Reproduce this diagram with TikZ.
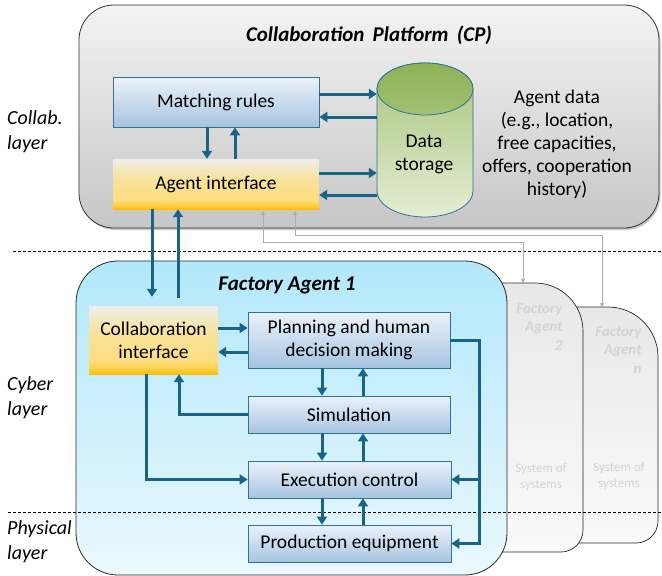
\documentclass[tikz,border=0pt]{standalone}
\usepackage{fontspec}
\setmainfont{Carlito}
\usetikzlibrary{arrows.meta,shadows,calc}
\definecolor{arrc}{RGB}{24,100,135}
\definecolor{bordc}{RGB}{45,115,150}
\definecolor{bluetop}{RGB}{236,242,250}
\definecolor{bluebot}{RGB}{166,196,225}
\definecolor{ytop}{RGB}{238,238,234}
\definecolor{ymid}{RGB}{252,222,128}
\definecolor{ybot}{RGB}{255,190,0}
\definecolor{cptop}{RGB}{243,243,243}
\definecolor{cpbot}{RGB}{198,198,198}
\definecolor{fatop}{RGB}{178,232,251}
\definecolor{fabot}{RGB}{234,248,253}
\definecolor{gtop}{RGB}{140,178,85}
\definecolor{gbot}{RGB}{228,238,212}
\definecolor{ghosttxt}{RGB}{212,212,212}
\definecolor{ghosttop}{RGB}{232,232,232}
\definecolor{ghostbot}{RGB}{250,250,250}
\pgfdeclareverticalshading{yshade}{100bp}{color(0bp)=(ybot); color(25bp)=(ybot); color(28bp)=(ybot!55!ymid); color(34bp)=(ymid); color(55bp)=(ymid!75!ytop); color(75bp)=(ytop); color(100bp)=(ytop)}
\tikzset{
  txt/.style={font=\fontsize{19.5}{23}\selectfont, align=center},
  bbox/.style={txt, draw=bordc, line width=0.8pt, top color=bluetop, bottom color=bluebot, inner sep=0pt},
  ybox/.style={txt, shading=yshade, inner sep=0pt},
  arr/.style={draw=arrc, line width=3pt, -{Triangle[length=8pt,width=10pt]}},
  gline/.style={draw=gray!65, line width=0.7pt, {Triangle[length=4pt,width=4pt]}-{Triangle[length=4pt,width=4pt]}},
  ghostbox/.style={draw=black!85, line width=0.7pt, top color=ghosttop, bottom color=ghostbot},
  ghosttitle/.style={font=\fontsize{15}{18.5}\selectfont\bfseries\itshape, text=ghosttxt, align=right, anchor=east},
  ghostsub/.style={font=\fontsize{13}{16}\selectfont, text=ghosttxt, align=center},
  layerlbl/.style={font=\fontsize{20}{25}\selectfont\itshape, align=left, anchor=west, inner sep=0pt},
  title/.style={font=\fontsize{21}{25}\selectfont\bfseries\itshape}
}
\begin{document}
\begin{tikzpicture}[x=1pt,y=-1pt]
\useasboundingbox (0,0) rectangle (662,576);
% Collaboration platform
\path[draw=black!80, line width=0.8pt, top color=cptop, bottom color=cpbot, rounded corners=35pt,
  drop shadow={opacity=0.45, shadow xshift=1.5pt, shadow yshift=-2pt}] (79,5) rectangle (659,228);
\node[title] (cpt) at (369,35) {Collaboration\,\ Platform\,\ (CP)};
\node[bbox, minimum width=206pt, minimum height=50pt] (mr) at (216,102) {Matching rules};
\node[ybox, minimum width=206pt, minimum height=50pt] (ai) at (216,184) {Agent interface};
% data storage cylinder
\node[minimum width=96pt, minimum height=154pt, inner sep=0pt] (ds) at (425,140) {};
\path[draw=bordc, line width=0.8pt, top color=gtop!70!gbot, bottom color=gbot]
  (377,89) -- (377,191) arc[start angle=180, end angle=0, x radius=48, y radius=26]
  -- (473,89) arc[start angle=0, end angle=-180, x radius=48, y radius=26] -- cycle;
\path[draw=bordc, line width=0.8pt, top color=gtop, bottom color=gtop!75!gbot]
  (425,89) ellipse [x radius=48, y radius=26];
\node[txt] (dst) at (424,154) {Data\\storage};
\node[txt] (adata) at (557,144) {Agent data\\(e.g., location,\\free capacities,\\offers, cooperation\\history)};
% arrows in CP
\draw[arr] ([yshift=8pt]mr.east) -- ([yshift=8pt]mr.east -| ds.west);
\draw[arr] ([yshift=-15pt]mr.east -| ds.west) -- ([yshift=-15pt]mr.east);
\draw[arr] ([yshift=11pt]ai.east) -- ([yshift=11pt]ai.east -| ds.west);
\draw[arr] ([yshift=-11pt]ai.east -| ds.west) -- ([yshift=-11pt]ai.east);
\draw[arr] ([xshift=-9pt]mr.south) -- ([xshift=-9pt]ai.north);
\draw[arr] ([xshift=19pt]ai.north) -- ([xshift=19pt]mr.south);
% layer labels
\node[layerlbl] (l1) at (7,132) {Collab.\\layer};
\node[layerlbl] (l2) at (7,398) {Cyber\\layer};
\node[layerlbl] (l3) at (7,542) {Physical\\layer};
% ghost agents
\path[ghostbox] (480,543) -- (480,307) -- (608,307) arc[start angle=-90, end angle=0, radius=50]
  -- (658,521) arc[start angle=0, end angle=90, radius=22] -- cycle;
\path[ghostbox] (400,552) -- (400,283) -- (535,283) arc[start angle=-90, end angle=0, radius=48]
  -- (583,530) arc[start angle=0, end angle=90, radius=22] -- cycle;
\coordinate (fa2top) at (523,283);
\coordinate (fantop) at (602,307);
\node[ghosttitle] (fa2t) at (566,327) {Factory\\Agent\\2};
\node[ghostsub] (fa2s) at (541,477) {System of\\systems};
\node[ghosttitle] (fant) at (645,350) {Factory\\Agent\\\textit{n}};
\node[ghostsub] (fans) at (619,476) {System of\\systems};
% factory agent 1
\path[draw=black!85, line width=0.8pt, top color=fatop, bottom color=fabot, rounded corners=42pt]
  (76,261) rectangle (507,575);
\node[title] (fat) at (287,285) {Factory Agent 1};
% dashed layer lines
\draw[dashed, dash pattern=on 3pt off 2pt, line width=0.6pt] (13,251) -- (662,251);
\draw[dashed, dash pattern=on 3pt off 2pt, line width=0.6pt] (8,512) -- (662,512);
% inner boxes
\node[ybox, minimum width=129pt, minimum height=68pt] (ci) at (153.5,340) {Collaboration\\interface};
\node[bbox, minimum width=202pt, minimum height=56pt] (plan) at (349,340) {Planning and human\\decision making};
\node[bbox, minimum width=202pt, minimum height=37pt] (sim) at (349,414.5) {Simulation};
\node[bbox, minimum width=203pt, minimum height=37pt] (exec) at (349.5,479.5) {Execution control};
\node[bbox, minimum width=203pt, minimum height=37pt] (prod) at (349.5,543.5) {Production equipment};
% CP <-> agent
\draw[arr] ([xshift=-64pt]ai.south) -- ([xshift=-1.5pt,yshift=9pt]ci.north);
\draw[arr] ([xshift=24.5pt,yshift=8pt]ci.north) -- ([xshift=-38pt]ai.south);
% gray links to other agents
\draw[gline] ([xshift=47pt,yshift=-2pt]ai.south) |- ($(fa2top)+(0,-41)$) -- (fa2top);
\draw[gline] ([xshift=79pt,yshift=-2pt]ai.south) |- ($(fantop)+(0,-72)$) -- (fantop);
% agent internal arrows
\draw[arr] ([yshift=12pt]ci.east) -- ([yshift=12pt]ci.east -| plan.west);
\draw[arr] ([yshift=-12pt]ci.east -| plan.west) -- ([yshift=-12pt]ci.east);
\draw[arr] ([xshift=-27pt]plan.south) -- ([xshift=-27pt]sim.north);
\draw[arr] ([xshift=14pt]sim.north) -- ([xshift=14pt]plan.south);
\draw[arr] ([xshift=-27pt]sim.south) -- ([xshift=-27.5pt]exec.north);
\draw[arr] ([xshift=13.5pt]exec.north) -- ([xshift=14pt]sim.south);
\draw[arr] ([xshift=-27.5pt]exec.south) -- ([xshift=-27.5pt]prod.north);
\draw[arr] ([xshift=13.5pt]prod.north) -- ([xshift=13.5pt]exec.south);
\draw[arr] (sim.west) -| ([xshift=25.5pt]ci.south);
\draw[arr] ([xshift=-7.5pt]ci.south) |- (exec.west);
\coordinate (fb) at ([xshift=29pt]plan.east);
\draw[arr, line join=miter] (plan.east) -- (fb) |- (prod.east);
\draw[arr] (fb |- exec.east) -- (exec.east);
\end{tikzpicture}
\end{document}
